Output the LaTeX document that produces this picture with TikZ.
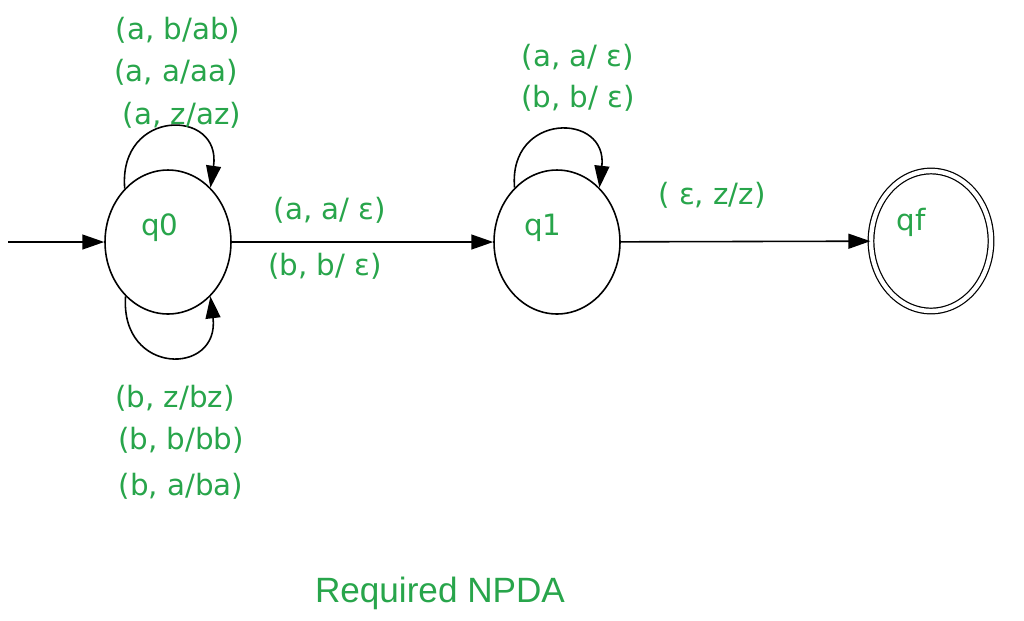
\documentclass[tikz,border=0pt]{standalone}
\usepackage{fontspec}
\setmainfont{DejaVu Sans}
\newfontfamily\titlefont{Liberation Sans}
\usetikzlibrary{shapes.geometric, arrows.meta}
\definecolor{labelgreen}{RGB}{40, 165, 75}

\begin{document}
\begin{tikzpicture}[
  x=0.02cm, y=-0.02cm,
  state/.style={draw, ellipse, line width=0.9pt, minimum width=2.52cm, minimum height=2.88cm, inner sep=0pt},
  trans/.style={-{Triangle[length=12.5pt, width=8.5pt]}, line width=0.9pt},
  lbl/.style={text=labelgreen, font=\fontsize{16.7}{20}\selectfont, inner sep=0pt}
]
  \useasboundingbox (0,0) rectangle (1024,620);

  % States
  \node[state] (q0) at (168, 242) {};
  \node[state] (q1) at (557, 242) {};
  \node[state, double, double distance=2.5pt, line width=0.7pt, minimum width=2.4cm, minimum height=2.8cm] (qf) at (931, 241) {};

  \node[lbl] (q0name) at (160, 228) {q0};
  \node[lbl] (q1name) at (543, 228) {q1};
  \node[lbl] (qfname) at (911, 222) {qf};

  % Transitions
  \coordinate (init) at (8, 242);
  \draw[trans] (init) -- (q0);
  \draw[trans] (q0) -- (q1);
  \draw[trans] (q1) -- (qf);

  % Self loops
  \draw[trans] (q0.129) .. controls (118, 108) and (222, 108) .. (q0.52);
  \draw[trans] (q0.232) .. controls (120, 376) and (220, 376) .. (q0.308);
  \draw[trans] (q1.128) .. controls (508, 112) and (608, 112) .. (q1.52);

  % Labels
  \node[lbl] (la1) at (178, 30) {(a, b/ab)};
  \node[lbl] (la2) at (176, 72) {(a, a/aa)};
  \node[lbl] (la3) at (182, 115) {(a, z/az)};
  \node[lbl] (lb1) at (175, 398) {(b, z/bz)};
  \node[lbl] (lb2) at (181, 440) {(b, b/bb)};
  \node[lbl] (lb3) at (181, 486) {(b, a/ba)};
  \node[lbl] (lp1) at (330, 210) {(a, a/ ε)};
  \node[lbl] (lp2) at (325, 266) {(b, b/ ε)};
  \node[lbl] (lq1) at (578, 57) {(a, a/ ε)};
  \node[lbl] (lq2) at (578, 98) {(b, b/ ε)};
  \node[lbl] (lf) at (712, 195) {( ε, z/z)};

  \node[text=labelgreen, font=\titlefont\fontsize{20}{24}\selectfont] (title) at (440, 593) {Required NPDA};
\end{tikzpicture}
\end{document}
